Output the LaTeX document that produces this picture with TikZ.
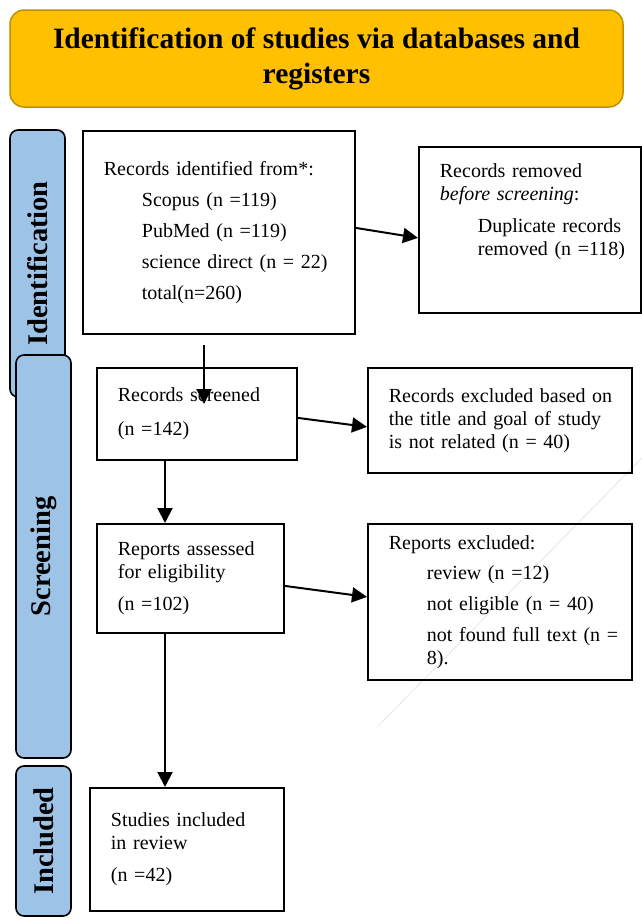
\documentclass[tikz,border=0pt]{standalone}
\usepackage{fontspec}
\setmainfont{Liberation Serif}
\usetikzlibrary{arrows.meta, calc, positioning}
\definecolor{bannerfill}{HTML}{FFC000}
\definecolor{bannerline}{HTML}{BF9000}
\definecolor{stagefill}{HTML}{9DC3E6}
\tikzset{
    banner/.style={
        draw=bannerline, fill=bannerfill, line width=1.5pt, rounded corners=14pt,
        minimum width=613pt, minimum height=97pt, inner sep=0pt, align=center,
        font=\fontsize{29.5}{35}\selectfont\bfseries
    },
    stage/.style={
        draw, fill=stagefill, line width=1.6pt, rounded corners=8pt, rotate=90,
        minimum height=55pt, inner sep=0pt,
        font=\fontsize{28.5}{32}\selectfont\bfseries
    },
    recbox/.style 2 args={
        draw, line width=1.8pt, rectangle, anchor=north west,
        text width=#1pt, minimum height=#2pt, inner xsep=21pt, inner ysep=0pt,
        align=left, font=\fontsize{20}{23}\selectfont
    },
    arr/.style={-{Triangle[length=15pt,width=15pt]}, line width=2pt}
}
\begin{document}
\begin{tikzpicture}[x=1pt, y=-1pt]
    \def \spine {165}
    \def \ind {\hspace*{38pt}}
    \useasboundingbox (0,0) rectangle (642,922);
    % faint stray line behind the right column
    \draw[gray!25, line width=0.6pt] (642,458) -- (377,727);
    \node[banner] (head) at (316.5,58.5) {Identification of studies via databases and\\registers};
    % stage bars on the left
    \node[stage, minimum width=267pt] (stIdent) at (37.5,263.5) {Identification};
    \node[stage, minimum width=403pt] (stScreen) at (43.5,556.5) {Screening};
    \node[stage, minimum width=150pt] (stIncl) at (43.5,841) {Included};
    % boxes
    \node[recbox={230}{203}] (idf) at (82,130) {Records identified from*:\\[8pt]
        \ind Scopus (n =119)\\[8pt]
        \ind PubMed (n =119)\\[8pt]
        \ind science direct (n = 22)\\[8pt]
        \ind total(n=260)};
    \node[recbox={180}{166}] (rem) at (418,146) {Records removed\\
        \textit{before screening}:\\[9pt]
        \ind\mbox{Duplicate records}\\
        \ind\mbox{removed (n =118)}\\[18pt]\mbox{}};
    \node[recbox={158}{92}] (scr) at (96,367) {Records screened\\[11pt]
        (n =142)};
    \node[recbox={222}{105}] (exc) at (367,367) {\mbox{Records excluded based on}\\
        \mbox{the title and goal of study}\\
        \mbox{is not related (n = 40)}};
    \node[recbox={145}{109}] (rep) at (96,523) {Reports assessed\\
        for eligibility\\[9pt]
        (n =102)};
    \node[recbox={222}{156}] (rex) at (367,523) {Reports excluded:\\[7pt]
        \ind review (n =12)\\[8pt]
        \ind not eligible (n = 40)\\[8pt]
        \ind\mbox{not found full text (n =}\\
        \ind 8).};
    \node[recbox={152}{123}] (inc) at (89,787) {Studies included\\
        in review\\[9pt]
        (n =42)};
    % connectors
    \coordinate (spine) at (\spine,0);
    \coordinate (drop1) at (204,345);
    \coordinate (drop2) at (204,404);
    \draw[arr] ([yshift=4.5pt]idf.east) -- ([yshift=-8pt]rem.west);
    \draw[arr] (drop1) -- (drop2);
    \draw[arr] ([yshift=-4pt]scr.east) -- ([yshift=-6.5pt]exc.west);
    \draw[arr] (scr.south -| spine) -- (rep.north -| spine);
    \draw[arr] ([yshift=-7.5pt]rep.east) -- ([yshift=5pt]rex.west);
    \draw[arr] (rep.south -| spine) -- (inc.north -| spine);
\end{tikzpicture}
\end{document}
